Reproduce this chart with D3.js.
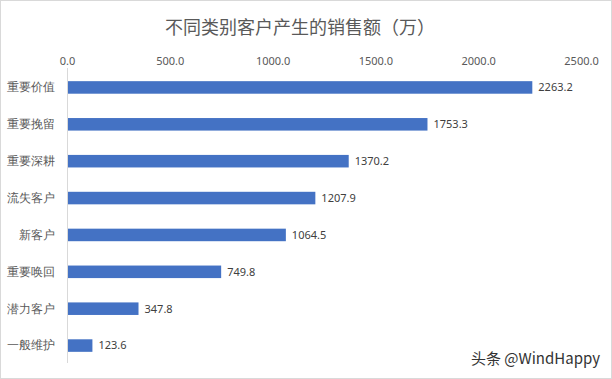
<!DOCTYPE html>
<html>
<head>
<meta charset="utf-8">
<script src="https://cdn.jsdelivr.net/npm/d3@7"></script>
<style>
  html, body { margin: 0; padding: 0; background: #fff; }
  svg { display: block; font-family: "Noto Sans CJK SC", "Noto Sans", sans-serif; }
</style>
</head>
<body>
<div id="chart"></div>
<script>
let categories = ['重要价值', '重要挽留', '重要深耕', '流失客户', '新客户', '重要唤回', '潜力客户', '一般维护'];
let sales = [2263.2, 1753.3, 1370.2, 1207.9, 1064.5, 749.8, 347.8, 123.6];
let xTicks = [0, 500, 1000, 1500, 2000, 2500];
let title = '不同类别客户产生的销售额（万）';

let width = 612, height = 379;
let margin = { top: 69, right: 31, bottom: 15, left: 67 };

let svg = d3.select('#chart').append('svg')
  .attr('width', width)
  .attr('height', height);

// outer border
svg.append('rect')
   .attr('x', 0.5).attr('y', 0.5)
   .attr('width', width - 1).attr('height', height - 1)
   .attr('fill', '#fff')
   .attr('stroke', '#d9d9d9');

let xScale = d3.scaleLinear()
  .domain([0, 2500])
  .range([margin.left, width - margin.right]);

let yScale = d3.scaleBand()
  .domain(categories)
  .range([margin.top, height - margin.bottom])
  .paddingInner(0.66)
  .paddingOuter(0.33);

// title
svg.append('text')
   .attr('x', 300)
   .attr('y', 34)
   .attr('text-anchor', 'middle')
   .style('font-size', '18px')
   .style('fill', '#595959')
   .text(title);

// top axis labels
let xAxis = svg.append('g')
  .attr('transform', `translate(0, ${margin.top - 4})`)
  .call(d3.axisTop(xScale).tickValues(xTicks).tickFormat(d3.format('.1f')).tickSize(0).tickPadding(0));
xAxis.select('.domain').remove();
xAxis.selectAll('text')
     .style('font-size', '11px')
     .style('fill', '#595959')
     .style('font-family', '"Noto Sans", sans-serif');

// vertical axis line
svg.append('line')
   .attr('x1', xScale(0) + 0.5).attr('x2', xScale(0) + 0.5)
   .attr('y1', margin.top - 1).attr('y2', height - margin.bottom - 1)
   .attr('stroke', '#d9d9d9');

// category labels
let yAxis = svg.append('g')
  .attr('transform', `translate(${margin.left}, 0)`)
  .call(d3.axisLeft(yScale).tickSize(0).tickPadding(12));
yAxis.select('.domain').remove();
yAxis.selectAll('text')
     .style('font-size', '12px')
     .style('fill', '#595959');

// bars
svg.selectAll('rect.bar')
   .data(sales)
   .enter()
   .append('rect')
   .attr('class', 'bar')
   .attr('x', xScale(0) + 1)
   .attr('y', (v, i) => yScale(categories[i]))
   .attr('width', v => xScale(v) - xScale(0) - 1)
   .attr('height', yScale.bandwidth())
   .attr('fill', '#4472c4');

// value labels
svg.selectAll('text.val')
   .data(sales)
   .enter()
   .append('text')
   .attr('class', 'val')
   .attr('x', v => xScale(v) + 6)
   .attr('y', (v, i) => yScale(categories[i]) + yScale.bandwidth() / 2)
   .attr('dy', '0.35em')
   .style('font-size', '11px')
   .style('fill', '#404040')
   .style('font-family', '"Noto Sans", sans-serif')
   .text(v => v.toFixed(1));

// watermark
svg.append('text')
   .attr('x', 600)
   .attr('y', 364)
   .attr('text-anchor', 'end')
   .style('font-size', '15px')
   .style('fill', '#333')
   .text('头条 @WindHappy');
</script>
</body>
</html>
